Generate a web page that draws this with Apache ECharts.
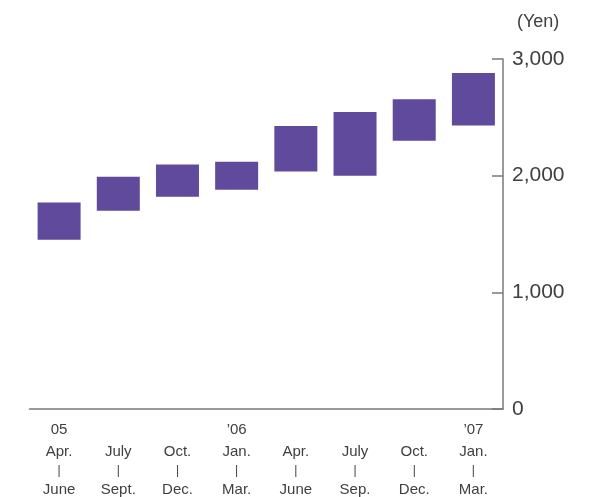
<!DOCTYPE html>
<html>
<head>
<meta charset="utf-8">
<script src="https://cdn.jsdelivr.net/npm/echarts@6/dist/echarts.min.js"></script>
<style>
  html, body { margin: 0; padding: 0; background: #fff; }
  #chart { width: 606px; height: 497px; }
</style>
</head>
<body>
<div id="chart"></div>
<script>
// Quarterly share price range (low to high), in yen
const yearLabels = ['05', '', '', '\u201906', '', '', '', '\u201907'];
const monthFrom = ['Apr.', 'July', 'Oct.', 'Jan.', 'Apr.', 'July', 'Oct.', 'Jan.'];
const monthTo = ['June', 'Sept.', 'Dec.', 'Mar.', 'June', 'Sep.', 'Dec.', 'Mar.'];
const lowPrices = [1450, 1700, 1820, 1880, 2035, 2000, 2300, 2430];
const highPrices = [1770, 1990, 2095, 2120, 2425, 2545, 2655, 2880];
const yTicks = [0, 1000, 2000, 3000];

const categories = monthFrom.map((m, i) => i);
const ranges = highPrices.map((h, i) => h - lowPrices[i]);

const chart = echarts.init(document.getElementById('chart'), null, { renderer: 'canvas' });
const textColor = '#404040';
const axisColor = '#7a7a7a';
const fontFamily = '"Liberation Sans", Arial, Helvetica, sans-serif';

chart.setOption({
  animation: false,
  backgroundColor: '#fff',
  grid: { left: 29.5, right: 103, top: 59, bottom: 87 },
  xAxis: {
    type: 'category',
    data: categories,
    axisLine: { show: true, lineStyle: { color: axisColor, width: 1.5 } },
    axisTick: { show: false },
    axisLabel: {
      interval: 0,
      margin: 8,
      color: textColor,
      fontFamily: fontFamily,
      formatter: function (v, i) {
        const yr = yearLabels[i] || '\u00a0';
        return '{y|' + yr + '}\n{m|' + monthFrom[i] + '}\n{s||}\n{m|' + monthTo[i] + '}';
      },
      rich: {
        y: { fontSize: 15, lineHeight: 25, color: textColor, fontFamily: fontFamily },
        m: { fontSize: 15, lineHeight: 19, color: textColor, fontFamily: fontFamily },
        s: { fontSize: 12, lineHeight: 19, color: textColor, fontFamily: fontFamily }
      }
    }
  },
  yAxis: {
    type: 'value',
    position: 'right',
    min: yTicks[0],
    max: yTicks[yTicks.length - 1],
    interval: 1000,
    name: '(Yen)',
    nameLocation: 'end',
    nameGap: 28,
    nameTextStyle: {
      color: textColor,
      fontSize: 18,
      fontFamily: fontFamily,
      align: 'left',
      padding: [0, 0, 0, 14]
    },
    axisLine: { show: true, lineStyle: { color: axisColor, width: 1.5 } },
    axisTick: { show: true, inside: true, length: 11, lineStyle: { color: axisColor, width: 1.5 } },
    splitLine: { show: false },
    axisLabel: {
      margin: 9,
      color: textColor,
      fontSize: 21,
      fontFamily: fontFamily,
      formatter: function (v) { return v.toLocaleString('en-US'); }
    }
  },
  series: [
    {
      name: 'low',
      type: 'bar',
      stack: 'range',
      barWidth: 43,
      silent: true,
      itemStyle: { color: 'transparent' },
      data: lowPrices
    },
    {
      name: 'range',
      type: 'bar',
      stack: 'range',
      barWidth: 43,
      itemStyle: { color: '#5f4a9b' },
      data: ranges
    }
  ]
});
</script>
</body>
</html>
